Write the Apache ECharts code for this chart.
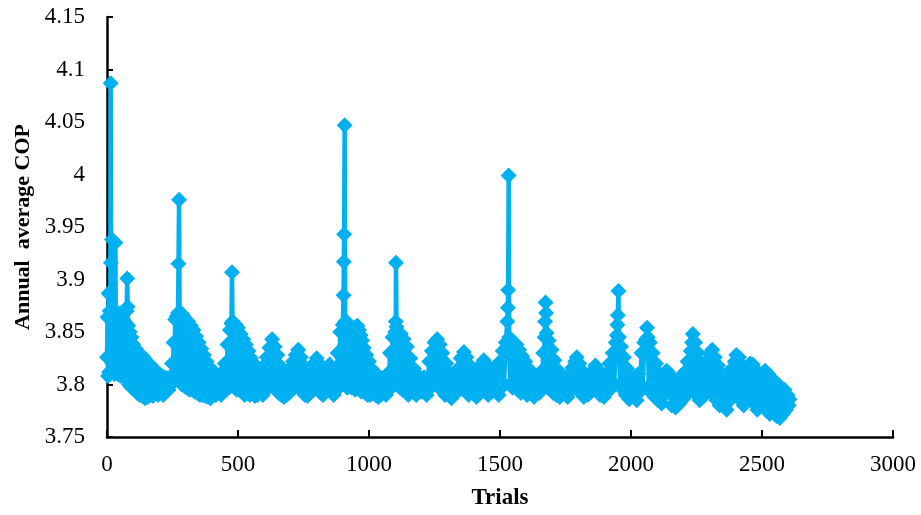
<!DOCTYPE html>
<html>
<head>
<meta charset="utf-8">
<title>Annual average COP vs trials</title>
<script src="https://cdn.jsdelivr.net/npm/echarts@6.0.0/dist/echarts.min.js"></script>
<style>
  html, body { margin: 0; padding: 0; background: #fff; }
  #chart { width: 921px; height: 515px; }
</style>
</head>
<body>
<div id="chart"></div>
<script>
// trial number of each plotted point
const trials = [
  0, 2, 4, 6, 8, 10, 12, 13, 14, 15, 17, 19, 21, 24, 28, 32, 34, 37, 40, 43,
  46, 49, 52, 55, 58, 61, 64, 67, 70, 73, 75, 77, 79, 81, 84, 87, 90, 93, 96, 100,
  105, 110, 115, 120, 125, 130, 135, 140, 145, 150, 155, 160, 165, 170, 175, 180, 185, 190, 195, 200,
  205, 210, 215, 220, 225, 230, 235, 240, 245, 248, 251, 254, 257, 260, 263, 266, 269, 271, 273, 275,
  277, 279, 282, 285, 288, 291, 294, 297, 300, 305, 310, 315, 320, 325, 330, 335, 340, 345, 350, 355,
  360, 365, 370, 375, 380, 385, 390, 395, 400, 405, 410, 415, 420, 425, 430, 435, 440, 445, 450, 455,
  460, 465, 469, 473, 475, 477, 479, 482, 485, 488, 491, 495, 500, 505, 510, 515, 520, 525, 530, 535,
  540, 545, 550, 555, 560, 565, 570, 575, 580, 585, 590, 595, 600, 605, 610, 615, 620, 625, 630, 635,
  640, 645, 650, 655, 660, 665, 670, 675, 680, 685, 690, 695, 700, 705, 710, 715, 720, 725, 730, 735,
  740, 745, 750, 755, 760, 765, 770, 775, 780, 785, 790, 795, 800, 805, 810, 815, 820, 825, 830, 835,
  840, 845, 850, 855, 860, 865, 870, 875, 880, 885, 890, 895, 900, 903, 904, 905, 907, 909, 911, 914,
  917, 920, 923, 926, 929, 932, 935, 938, 941, 944, 947, 950, 953, 956, 959, 962, 965, 968, 971, 974,
  977, 980, 985, 990, 995, 1000, 1005, 1010, 1015, 1020, 1025, 1030, 1035, 1040, 1045, 1050, 1055, 1060, 1065, 1070,
  1075, 1080, 1085, 1090, 1095, 1100, 1102, 1103,
  1105, 1108, 1112, 1118, 1122, 1128, 1132, 1140, 1145, 1150, 1158, 1165, 1172, 1180, 1190, 1200, 1210, 1220, 1230, 1235,
  1240, 1245, 1250, 1255, 1260, 1265, 1270, 1275, 1280, 1290, 1295, 1300, 1305, 1315, 1320, 1330, 1340, 1345, 1350, 1355,
  1362, 1368, 1372, 1380, 1385, 1395, 1400, 1410, 1420, 1425, 1432, 1438, 1443, 1450, 1455, 1462, 1470, 1476, 1482, 1488,
  1495, 1500, 1505, 1510, 1515, 1522, 1528, 1530, 1531, 1533, 1535, 1538, 1543, 1548, 1553, 1558, 1563, 1568, 1573, 1580,
  1585, 1590, 1596, 1603, 1610, 1617, 1624, 1630, 1640, 1650, 1655, 1660, 1665, 1668, 1670, 1672, 1674, 1676, 1678, 1682,
  1686, 1692, 1697, 1703, 1708, 1715, 1720, 1728, 1735, 1742, 1750, 1758, 1765, 1770, 1776, 1782, 1787, 1793, 1797, 1803,
  1808, 1814, 1820, 1828, 1835, 1842, 1848, 1853, 1858, 1864, 1870, 1876, 1882, 1890, 1897, 1905, 1912, 1918, 1924, 1930,
  1936, 1942, 1946, 1948, 1950, 1952, 1954, 1958, 1962, 1968, 1973, 1980, 1986, 1993, 2000, 2008, 2015, 2022, 2028, 2034,
  2040, 2045, 2050, 2055, 2058, 2061, 2064, 2068, 2072, 2078, 2083, 2090, 2096, 2103, 2110, 2117, 2124, 2130, 2136, 2142,
  2148, 2155, 2162, 2170, 2178, 2185, 2192, 2198, 2205, 2210, 2216, 2222, 2228, 2233, 2236, 2240, 2245, 2250, 2256, 2262,
  2268, 2274, 2280, 2285, 2292, 2297, 2303, 2310, 2315, 2320, 2326, 2332, 2338, 2345, 2352, 2358, 2365, 2372, 2378, 2384,
  2390, 2396, 2402, 2406, 2412, 2418, 2424, 2430, 2436, 2442, 2448, 2455, 2460, 2465, 2470, 2476, 2482, 2488, 2494, 2500,
  2506, 2512, 2518, 2524, 2530, 2536, 2542, 2548, 2555, 2562, 2568, 2574, 2580, 2586, 2592, 2597, 2602, 2605
];

// annual average COP of each point, same order as trials
const cop = [
  3.826, 3.864, 3.808, 3.887, 3.812, 3.870, 3.810, 3.885, 4.087, 3.916, 3.870, 3.938, 3.820, 3.866, 3.810, 3.935, 3.812, 3.864, 3.810, 3.868,
  3.810, 3.866, 3.808, 3.865, 3.810, 3.862, 3.808, 3.860, 3.806, 3.858, 3.870, 3.901, 3.874, 3.856, 3.800, 3.850, 3.798, 3.845, 3.797, 3.838,
  3.795, 3.834, 3.792, 3.830, 3.790, 3.828, 3.789, 3.826, 3.787, 3.822, 3.788, 3.820, 3.790, 3.817, 3.789, 3.815, 3.792, 3.812, 3.790, 3.810,
  3.793, 3.808, 3.790, 3.807, 3.794, 3.806, 3.795, 3.807, 3.800, 3.820, 3.804, 3.840, 3.806, 3.862, 3.806, 3.865, 3.806, 3.868, 3.915, 3.976,
  3.868, 3.805, 3.866, 3.800, 3.867, 3.800, 3.864, 3.798, 3.862, 3.797, 3.860, 3.795, 3.856, 3.795, 3.852, 3.793, 3.846, 3.792, 3.840, 3.790,
  3.834, 3.790, 3.828, 3.789, 3.822, 3.788, 3.817, 3.787, 3.814, 3.790, 3.810, 3.790, 3.808, 3.793, 3.808, 3.790, 3.812, 3.793, 3.820, 3.795,
  3.838, 3.797, 3.852, 3.800, 3.858, 3.907, 3.860, 3.800, 3.858, 3.797, 3.857, 3.795, 3.854, 3.795, 3.848, 3.793, 3.843, 3.790, 3.838, 3.792,
  3.832, 3.790, 3.825, 3.792, 3.820, 3.789, 3.813, 3.790, 3.810, 3.793, 3.808, 3.790, 3.818, 3.795, 3.826, 3.797, 3.835, 3.800, 3.843, 3.798,
  3.836, 3.795, 3.828, 3.792, 3.818, 3.790, 3.810, 3.788, 3.808, 3.790, 3.810, 3.792, 3.815, 3.795, 3.822, 3.797, 3.828, 3.800, 3.833, 3.797,
  3.826, 3.793, 3.818, 3.790, 3.810, 3.789, 3.810, 3.792, 3.815, 3.795, 3.820, 3.797, 3.825, 3.795, 3.820, 3.792, 3.812, 3.790, 3.810, 3.793,
  3.814, 3.796, 3.819, 3.793, 3.815, 3.790, 3.810, 3.795, 3.830, 3.797, 3.850, 3.800, 3.857, 3.885, 3.917, 3.943, 4.047, 3.860, 3.800, 3.860,
  3.797, 3.858, 3.800, 3.856, 3.798, 3.853, 3.797, 3.850, 3.797, 3.852, 3.795, 3.855, 3.800, 3.856, 3.797, 3.852, 3.795, 3.847, 3.793, 3.842,
  3.795, 3.835, 3.792, 3.828, 3.790, 3.822, 3.790, 3.815, 3.792, 3.812, 3.790, 3.808, 3.788, 3.807, 3.790, 3.806, 3.793, 3.807, 3.790, 3.810,
  3.795, 3.830, 3.797, 3.845, 3.800, 3.850, 3.860, 3.916,
  3.855, 3.800, 3.850, 3.797, 3.848, 3.795, 3.843, 3.793, 3.836, 3.790, 3.825, 3.795, 3.815, 3.790, 3.808, 3.793, 3.807, 3.790, 3.822, 3.797,
  3.832, 3.800, 3.840, 3.800, 3.843, 3.798, 3.838, 3.795, 3.830, 3.790, 3.820, 3.793, 3.812, 3.787, 3.806, 3.792, 3.815, 3.795, 3.825, 3.800,
  3.831, 3.797, 3.826, 3.790, 3.818, 3.793, 3.808, 3.788, 3.815, 3.796, 3.820, 3.823, 3.797, 3.818, 3.790, 3.810, 3.793, 3.816, 3.795, 3.810,
  3.790, 3.822, 3.797, 3.832, 3.800, 3.840, 3.860, 3.873, 3.890, 3.999, 3.845, 3.800, 3.840, 3.797, 3.840, 3.800, 3.838, 3.795, 3.833, 3.792,
  3.827, 3.795, 3.822, 3.790, 3.815, 3.793, 3.808, 3.788, 3.806, 3.792, 3.812, 3.797, 3.830, 3.800, 3.845, 3.860, 3.878, 3.868, 3.849, 3.800,
  3.842, 3.795, 3.833, 3.792, 3.823, 3.790, 3.814, 3.788, 3.807, 3.793, 3.806, 3.788, 3.810, 3.795, 3.816, 3.797, 3.822, 3.826, 3.800, 3.820,
  3.792, 3.813, 3.788, 3.806, 3.790, 3.808, 3.793, 3.813, 3.797, 3.818, 3.795, 3.814, 3.790, 3.806, 3.788, 3.810, 3.793, 3.820, 3.797, 3.830,
  3.800, 3.840, 3.847, 3.857, 3.866, 3.889, 3.845, 3.800, 3.836, 3.795, 3.826, 3.790, 3.815, 3.786, 3.806, 3.790, 3.805, 3.785, 3.810, 3.793,
  3.830, 3.797, 3.840, 3.832, 3.843, 3.854, 3.845, 3.798, 3.840, 3.792, 3.830, 3.788, 3.820, 3.785, 3.810, 3.782, 3.806, 3.790, 3.813, 3.794,
  3.810, 3.780, 3.805, 3.778, 3.804, 3.782, 3.806, 3.786, 3.812, 3.790, 3.822, 3.793, 3.832, 3.840, 3.848, 3.795, 3.840, 3.790, 3.830, 3.785,
  3.820, 3.788, 3.815, 3.792, 3.823, 3.795, 3.830, 3.833, 3.790, 3.826, 3.785, 3.818, 3.780, 3.810, 3.782, 3.806, 3.776, 3.808, 3.785, 3.815,
  3.790, 3.822, 3.828, 3.793, 3.826, 3.785, 3.818, 3.780, 3.813, 3.786, 3.816, 3.820, 3.790, 3.819, 3.782, 3.814, 3.776, 3.808, 3.780, 3.810,
  3.785, 3.813, 3.775, 3.810, 3.772, 3.806, 3.776, 3.803, 3.770, 3.800, 3.768, 3.797, 3.772, 3.795, 3.776, 3.790, 3.780, 3.786
];

// axis ranges and tick labels
const xTicks = [0, 500, 1000, 1500, 2000, 2500, 3000];
const yTicks = ['3.75', '3.8', '3.85', '3.9', '3.95', '4', '4.05', '4.1', '4.15'];

const chart = echarts.init(document.getElementById('chart'));
const serif = 'Liberation Serif, Times New Roman, serif';

const points = trials.map((t, i) => [t, cop[i]]);

chart.setOption({
  animation: false,
  grid: { left: 107, right: 28, top: 17, bottom: 78, containLabel: false },
  xAxis: {
    type: 'value',
    min: xTicks[0],
    max: xTicks[xTicks.length - 1],
    interval: 500,
    name: 'Trials',
    nameLocation: 'middle',
    nameGap: 50,
    nameTextStyle: { fontFamily: serif, fontSize: 23, fontWeight: 'bold', color: '#000' },
    axisLine: { onZero: false, lineStyle: { color: '#000', width: 2.5 } },
    axisTick: { inside: true, length: 7, lineStyle: { color: '#000', width: 2 } },
    axisLabel: { fontFamily: serif, fontSize: 23, color: '#000', margin: 16, formatter: v => String(v) },
    splitLine: { show: false }
  },
  yAxis: {
    type: 'value',
    min: 3.75,
    max: 4.15,
    interval: 0.05,
    name: 'Annual  average COP',
    nameLocation: 'middle',
    nameGap: 70,
    nameTextStyle: { fontFamily: serif, fontSize: 22, fontWeight: 'bold', color: '#000' },
    axisLine: { show: true, lineStyle: { color: '#000', width: 2.5 } },
    axisTick: { show: true, inside: true, length: 6, lineStyle: { color: '#000', width: 2 } },
    axisLabel: {
      fontFamily: serif, fontSize: 23, color: '#000', margin: 22,
      formatter: v => yTicks[Math.round((v - 3.75) / 0.05)]
    },
    splitLine: { show: false }
  },
  series: [{
    type: 'line',
    data: points,
    symbol: 'diamond',
    symbolSize: 16,
    showAllSymbol: true,
    lineStyle: { color: '#00B0F0', width: 4.5 },
    itemStyle: { color: '#00B0F0' },
    z: 1
  }]
});
</script>
</body>
</html>
